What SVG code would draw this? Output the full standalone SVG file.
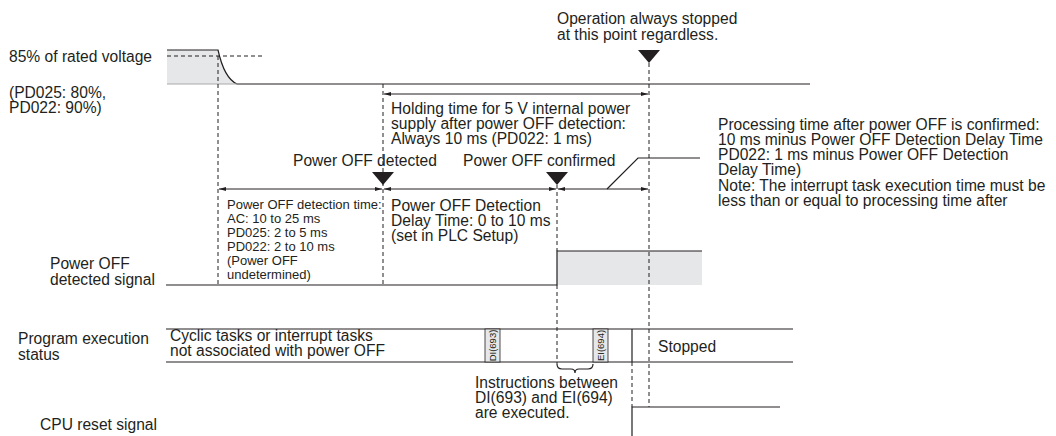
<svg xmlns="http://www.w3.org/2000/svg" width="1056" height="436" viewBox="0 0 1056 436">
<style>
text{font-family:"Liberation Sans",Arial,sans-serif;fill:#231f20;font-size:15.6px}
.s{font-size:13px}
.r{font-size:9.5px}
.ln{stroke:#231f20;stroke-width:1.2;fill:none}
.d{stroke:#231f20;stroke-width:1;stroke-dasharray:4 3;fill:none}
.ar{stroke:#231f20;stroke-width:1;fill:none;marker-start:url(#ah);marker-end:url(#ah)}
.g{fill:#e6e7e8}
.tri{fill:#231f20}
</style>
<defs>
<marker id="ah" viewBox="0 0 7 4" refX="7" refY="2" markerWidth="7" markerHeight="4" markerUnits="userSpaceOnUse" orient="auto-start-reverse"><path d="M0,0 L7,2 L0,4 z" fill="#231f20"/></marker>
</defs>
<g id="voltage">
<path class="g" d="M167,50 H218 C222,68 228,80 237,84 H167 Z"/>
<path class="ln" d="M167,50 H218 C222,68 228,80 237,84 H810"/>
<line x1="167" y1="84" x2="237" y2="84" stroke="#aaaaaa" stroke-width="1.2"/>
<line class="d" x1="167" y1="56" x2="262" y2="56"/>
<text x="9" y="62">85% of rated voltage</text>
<text x="9" y="98">(PD025: 80%,</text>
<text x="9" y="113">PD022: 90%)</text>
</g>
<g id="stop-note">
<text x="557" y="24">Operation always stopped</text>
<text x="557" y="40">at this point regardless.</text>
<polygon class="tri" points="638,50 660,50 649,63"/>
</g>
<g id="holding">
<text x="391" y="114">Holding time for 5 V internal power</text>
<text x="391" y="129">supply after power OFF detection:</text>
<text x="391" y="144">Always 10 ms (PD022: 1 ms)</text>
</g>
<g id="detected">
<text x="293" y="166">Power OFF detected</text>
<polygon class="tri" points="372,172 394,172 383,185"/>
</g>
<g id="confirmed">
<text x="463" y="166">Power OFF confirmed</text>
<polygon class="tri" points="546,172 568,172 557,185"/>
</g>
<g id="processing">
<text x="718" y="130">Processing time after power OFF is confirmed:</text>
<text x="718" y="145">10 ms minus Power OFF Detection Delay Time</text>
<text x="718" y="160">PD022: 1 ms minus Power OFF Detection</text>
<text x="718" y="175">Delay Time)</text>
<text x="718" y="191">Note: The interrupt task execution time must be</text>
<text x="718" y="206">less than or equal to processing time after</text>
</g>
<g id="detection-time">
<text class="s" x="227" y="209">Power OFF detection time:</text>
<text class="s" x="227" y="223">AC: 10 to 25 ms</text>
<text class="s" x="227" y="237">PD025: 2 to 5 ms</text>
<text class="s" x="227" y="251">PD022: 2 to 10 ms</text>
<text class="s" x="227" y="265">(Power OFF</text>
<text class="s" x="227" y="279">undetermined)</text>
</g>
<g id="delay-time">
<text x="391" y="211">Power OFF Detection</text>
<text x="391" y="226">Delay Time: 0 to 10 ms</text>
<text x="391" y="241">(set in PLC Setup)</text>
</g>
<g id="signal">
<text x="50" y="269">Power OFF</text>
<text x="50" y="285">detected signal</text>
<rect class="g" x="557" y="251" width="145" height="34"/>
<path class="ln" d="M166,285 H557 V251 H702"/>
</g>
<g id="program">
<text x="18" y="344">Program execution</text>
<text x="18" y="360">status</text>
<line class="ln" x1="166" y1="329" x2="793" y2="329"/>
<line class="ln" x1="166" y1="362" x2="793" y2="362"/>
<text x="170" y="341">Cyclic tasks or interrupt tasks</text>
<text x="170" y="356">not associated with power OFF</text>
<rect x="485" y="329" width="15" height="33" fill="#e6e7e8" stroke="#231f20" stroke-width="0.8"/>
<text class="r" transform="translate(495.8,345.5) rotate(-90)" text-anchor="middle">DI(693)</text>
<rect x="593" y="329" width="15" height="33" fill="#e6e7e8" stroke="#231f20" stroke-width="0.8"/>
<text class="r" transform="translate(603.8,345.5) rotate(-90)" text-anchor="middle">EI(694)</text>
<line class="ln" x1="632" y1="329" x2="632" y2="362"/>
<text x="658" y="352">Stopped</text>
</g>
<g id="brace">
<path class="ln" stroke-width="1" d="M557,364 Q557,369 562,369 H571 Q575,369 575,373 Q575,369 579,369 H588 Q593,369 593,364"/>
<text x="475" y="388">Instructions between</text>
<text x="475" y="403">DI(693) and EI(694)</text>
<text x="475" y="418">are executed.</text>
</g>
<g id="cpu-reset">
<text x="40" y="430">CPU reset signal</text>
<path class="ln" d="M632,436 V407 H780"/>
</g>
<g id="connectors">
<line class="d" x1="218" y1="56" x2="218" y2="285"/>
<line class="d" x1="383" y1="84" x2="383" y2="285"/>
<line class="d" x1="557" y1="185" x2="557" y2="251"/>
<line class="d" x1="557" y1="285" x2="557" y2="364"/>
<line class="d" x1="649" y1="63" x2="649" y2="407"/>
<line class="d" x1="632" y1="362" x2="632" y2="407"/>
<line class="ar" x1="384" y1="94" x2="648" y2="94"/>
<line class="ar" x1="219" y1="189" x2="382" y2="189"/>
<line class="ar" x1="384" y1="189" x2="556" y2="189"/>
<line class="ar" x1="558" y1="189" x2="648" y2="189"/>
<polyline class="ln" stroke-width="1" points="607,189 638,158 700,158"/>
</g>
</svg>
